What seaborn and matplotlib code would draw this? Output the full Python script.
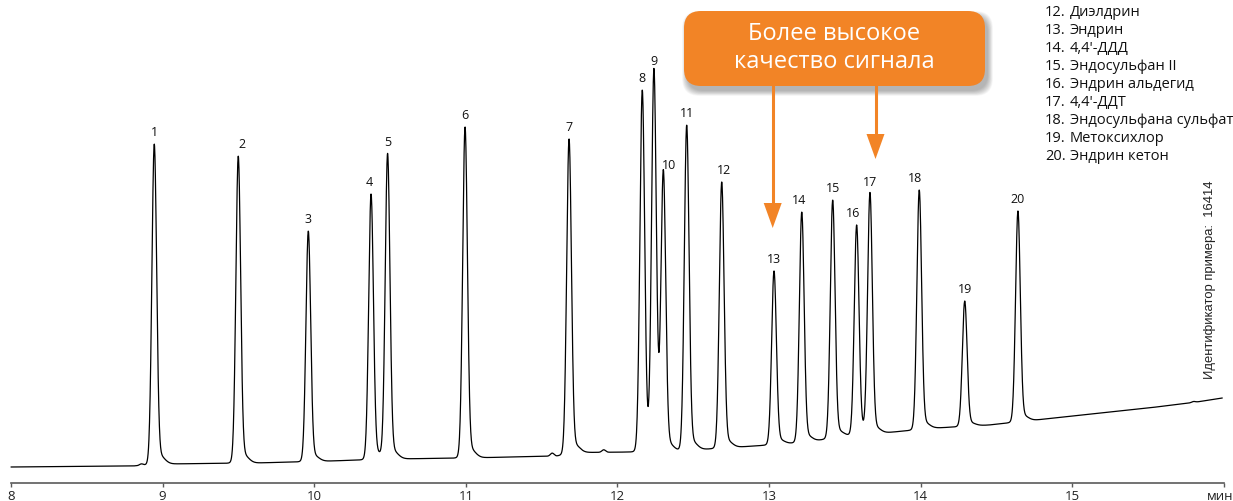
import numpy as np
import pandas as pd
import matplotlib
matplotlib.use("Agg")
import matplotlib.pyplot as plt
import seaborn as sns
from matplotlib.patches import FancyBboxPatch, Polygon
from matplotlib.lines import Line2D
from matplotlib.transforms import Affine2D, ScaledTranslation

# ---- chromatogram data -------------------------------------------------
peak_ids = list(range(1, 21))
peak_times = [8.945, 9.499, 9.961, 10.375, 10.484, 10.995, 11.681, 12.164,
              12.241, 12.303, 12.457, 12.688, 13.033, 13.216, 13.420, 13.578,
              13.666, 13.991, 14.291, 14.642]
peak_apex = [323, 311, 236, 273, 313, 340, 328, 377, 394, 290, 342, 285,
             196, 255, 267, 242, 273, 277, 166, 256]

# small unlabelled bumps (height above the baseline)
minor_times = [8.86, 11.57, 11.91, 15.80]
minor_heights = [1.5, 3.0, 2.5, 1.0]

# baseline drift of the temperature programme
baseline_t = [8.0, 8.8, 9.0, 9.6, 10.0, 10.5, 11.0, 11.6, 11.75, 12.1, 12.4,
              12.8, 13.1, 13.3, 13.5, 13.75, 14.1, 14.45, 14.7, 15.0, 15.5,
              15.8, 15.99]
baseline_y = [0, 1, 3, 4, 5.5, 8, 9, 11, 14.5, 15, 16, 20, 23, 26, 31, 34,
              39, 42, 46, 51, 59, 64.5, 69]

legend_numbers = [12, 13, 14, 15, 16, 17, 18, 19, 20]
legend_names = ["Диэлдрин", "Эндрин", "4,4'-ДДД", "Эндосульфан II",
                "Эндрин альдегид", "4,4'-ДДТ", "Эндосульфана сульфат",
                "Метоксихлор", "Эндрин кетон"]

x_ticks = [8, 9, 10, 11, 12, 13, 14, 15, 16]
x_tick_labels = ["8", "9", "10", "11", "12", "13", "14", "15", "мин"]

callout_lines = ["Более высокое", "качество сигнала"]
sample_id_text = "Идентификатор примера:  16414"

# ---- build the trace ---------------------------------------------------
sigma = 0.0155
tail_ratio, tail_shift, tail_sigma = 0.03, 0.03, 0.035

t = np.linspace(8.0, 15.99, 6000)
base = np.interp(t, baseline_t, baseline_y)


def peak_shape(x, centre):
    main = np.exp(-((x - centre) ** 2) / (2 * sigma ** 2))
    tail = tail_ratio * np.exp(-((x - centre - tail_shift) ** 2) / (2 * tail_sigma ** 2))
    return main + tail


signal = base.copy()
for tc, apex in zip(peak_times, peak_apex):
    amp = (apex - np.interp(tc, baseline_t, baseline_y)) / peak_shape(np.array([tc]), tc)[0]
    signal += amp * peak_shape(t, tc)
for tc, h in zip(minor_times, minor_heights):
    signal += h * np.exp(-((t - tc) ** 2) / (2 * 0.012 ** 2))

df = pd.DataFrame({"time": t, "signal": signal})

# ---- figure ------------------------------------------------------------
sns.set_theme(style="white")
plt.rcParams["font.family"] = ["Open Sans", "DejaVu Sans"]

W, H = 1233, 502
axis_px = 484  # vertical pixel position of the time axis
fig = plt.figure(figsize=(W / 100, H / 100), dpi=100)
fig.patch.set_facecolor("white")
ax = fig.add_axes([0, (H - axis_px) / H, 1, axis_px / H])
ax.patch.set_alpha(0)

sns.lineplot(data=df, x="time", y="signal", ax=ax, color="black",
             linewidth=0.9, estimator=None, sort=False)

ax.set_xlim(8 - 11 / 151.6, 8 + 1222 / 151.6)
ax.set_ylim(468 - axis_px, 468)
for side in ("left", "top", "right"):
    ax.spines[side].set_visible(False)
ax.spines["bottom"].set_color("#5a5a5a")
ax.spines["bottom"].set_linewidth(1.2)
ax.spines["bottom"].set_bounds(8, 16)
ax.set_xticks(x_ticks, x_tick_labels)
ax.set_yticks([])
ax.tick_params(axis="x", direction="out", length=3, width=1, color="#5a5a5a",
               pad=1.0, labelsize=9.5, labelcolor="#222222", bottom=True)
ax.set_xlabel("")
ax.set_ylabel("")

# keep the unit label inside the page edge
unit_label = ax.get_xticklabels()[-1]
unit_label.set_transform(unit_label.get_transform()
                         + ScaledTranslation(-4 / 100, 0, fig.dpi_scale_trans))

# peak numbers
nudge = {2: 2.5, 4: -1.5, 10: 4, 12: 2, 14: -2, 16: -2.5, 18: -3}
for pid, tc, apex in zip(peak_ids, peak_times, peak_apex):
    ax.annotate(str(pid), (tc, apex), xytext=(nudge.get(pid, 0), 4),
                textcoords="offset points", ha="center", va="bottom",
                fontsize=9, color="#111111")

# pixel-based transform (origin top-left) for page furniture
px = Affine2D().scale(1, -1).translate(0, H).scale(1 / W, 1 / H) + fig.transFigure

# legend of compounds
for i, (num, name) in enumerate(zip(legend_numbers, legend_names)):
    y = 12.7 + i * 18.0
    fig.text(1045, y, f"{num}.", transform=px, ha="left", va="center",
             fontsize=10.5, color="#111111")
    fig.text(1070, y, name, transform=px, ha="left", va="center",
             fontsize=10.5, color="#111111")

# sample id
fig.text(1210.5, 280, sample_id_text, transform=px, rotation=90,
         ha="center", va="center", fontsize=9.4, color="#222222",
         family=["Liberation Sans", "DejaVu Sans"])

# callout box with a soft shadow
orange = "#F28426"
bx0, by0, bx1, by1, rad = 684, 12, 985, 87, 17
for k in range(9):
    g = 1.2 * k
    shadow = FancyBboxPatch((bx0 + rad + 3 - g / 2, by0 + rad + 5 - g / 2),
                            bx1 - bx0 - 2 * rad + g, by1 - by0 - 2 * rad + g,
                            boxstyle=f"round,pad={rad}", transform=px,
                            facecolor="#000000", edgecolor="none", alpha=0.035,
                            zorder=2)
    fig.add_artist(shadow)
box = FancyBboxPatch((bx0 + rad, by0 + rad), bx1 - bx0 - 2 * rad, by1 - by0 - 2 * rad,
                     boxstyle=f"round,pad={rad}", transform=px,
                     facecolor=orange, edgecolor="none", zorder=3)
fig.add_artist(box)
fig.text(834, 34, callout_lines[0], transform=px, ha="center", va="center",
         fontsize=17, color="white", zorder=4)
fig.text(834, 62, callout_lines[1], transform=px, ha="center", va="center",
         fontsize=17, color="white", zorder=4)

# arrows pointing at the improved peaks
for ax_x, tip_y in ((772.7, 229), (875.5, 160)):
    head_len, head_w = 25, 18
    fig.add_artist(Line2D([ax_x, ax_x], [by1 - 1, tip_y - head_len + 2],
                          transform=px, color=orange, linewidth=2.2,
                          solid_capstyle="butt", zorder=3))
    fig.add_artist(Polygon([[ax_x - head_w / 2, tip_y - head_len],
                            [ax_x + head_w / 2, tip_y - head_len],
                            [ax_x, tip_y]], closed=True, transform=px,
                           facecolor=orange, edgecolor="none", zorder=3))

fig.savefig("out.png", dpi=100, facecolor="white")
